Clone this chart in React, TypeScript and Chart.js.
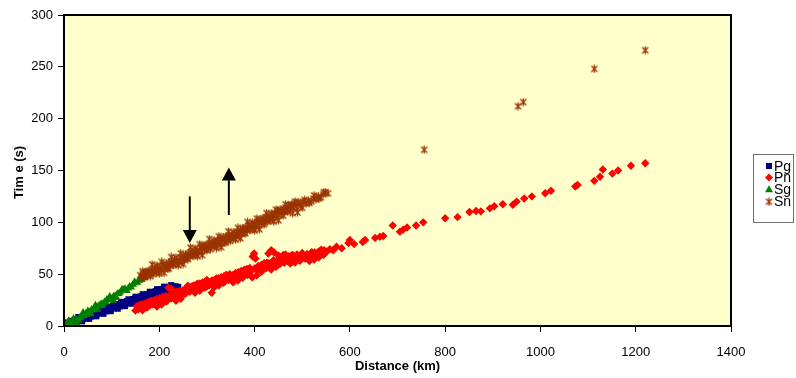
import React, { useEffect, useRef } from 'react';
import { Chart, registerables } from 'chart.js';

Chart.register(...registerables);

// ---- Data ----
const pgX = [2,4,6,8,10,13,15,17,20,22,25,27,30,33,35,38,40,43,46,48,51,54,57,60,63,66,69,72,75,78,81,84,87,90,93,96,99,102,105,108,111,114,117,120,123,126,129,132,135,138,141,144,147,150,153,156,159,162,165,168,171,174,177,180,183,186,189,192,195,198,201,204,207,210,213,216,219,222,225,228,231,234,237,240,
  30,45,60,75,90,105,120,135,150,165,180,195,210,225,38,53,68,83,98,113,128,143,158,173,188,203,218,233];
const pgY = [0.8,2.4,1.2,3.5,1.8,4.2,2.5,5.0,3.1,5.9,4.0,6.8,5.2,7.9,5.6,8.4,6.4,9.6,7.3,10.4,8.1,11.2,9.0,12.4,10.2,13.0,11.1,14.3,12.0,15.2,12.9,16.3,14.0,17.4,15.0,18.1,15.8,19.3,16.9,20.2,17.8,21.3,18.8,22.1,19.7,23.0,20.6,24.1,21.7,25.0,22.6,26.1,23.6,26.9,24.5,27.9,25.4,28.8,26.5,29.9,27.4,30.8,28.5,31.7,29.4,32.8,30.3,33.7,31.4,34.6,32.3,35.7,33.2,36.6,34.3,37.5,35.3,38.0,36.3,38.2,37.0,38.4,37.6,37.8,
  8.7,11.1,13.6,16.0,18.5,20.9,23.4,25.8,28.3,30.7,33.1,35.6,38.0,39.5,4.4,6.8,9.3,11.7,14.2,16.6,19.1,21.5,24.0,26.4,28.8,31.3,33.7,35.2];

const pnX = [150,153,156,159,162,165,168,171,174,177,180,183,186,189,192,195,198,201,204,207,210,213,216,219,222,225,228,231,234,237,240,243,246,249,252,255,258,261,264,267,270,273,276,279,282,285,288,291,294,297,300,303,306,310,312,315,318,321,324,327,330,333,336,339,342,345,348,351,354,357,360,363,366,369,372,375,378,381,384,387,390,393,396,399,402,405,408,411,414,417,420,423,426,429,432,435,438,441,444,447,450,453,456,459,462,465,468,471,474,477,480,483,486,489,492,495,498,502,506,510,514,518,522,526,530,535,540,546,552,558,565,572,583,597,600,609,627,632,653,663,670,690,705,712,720,739,754,800,826,851,865,875,894,903,921,942,950,966,982,1010,1022,1073,1078,1113,1125,1131,1151,1163,1190,1220,
  160,165,170,175,180,185,190,195,200,205,210,215,220,225,230,235,240,245,250,255,260,265,270,275,280,285,290,295,300,305,310,315,320,325,330,335,340,345,350,355,360,365,370,375,380,385,390,395,400,405,410,415,420,425,430,435,440,445,450,455,460,465,470,475,480,485,490,495,500,505,510,515,520,525,530,535,540,545];
const pnY = [15,19,16,20,17,21,19,22,18,23,20,24,21,25,22,26,23,27,24,28,25,29,26,37,27,36,28,32,29,33,30,34,31,33,31,36,34,37,33,38,35,39,36,40,37,41,38,42,39,43,38,42,40,32,44,41,45,42,46,43,47,44,48,45,49,46,50,44,49,47,51,48,52,49,53,50,54,51,55,52,56,53,67,70,65,54,58,55,59,56,60,57,61,70,58,73,62,71,59,63,68,60,64,66,61,69,63,67,64,68,62,67,65,69,66,63,67,68,65,69,67,70,68,71,69,72,70,73,72,74,73,76.5,75,80,83,79,81,83,85,86,86.8,97,91,93,95,97,100,104,105,110,111,110.6,113.5,115.5,117.5,117,120,123,125,128,130.5,134.5,136,140,144,151,147,150,154.6,157,
  20.2,15.1,20.6,18.0,23.5,20.9,23.9,18.8,25.8,20.7,26.2,23.6,29.1,26.5,29.5,24.4,31.4,26.3,34.5,31.2,38.9,34.1,38.3,32.0,40.7,33.9,40.1,36.8,44.5,39.6,43.7,37.3,45.9,39.0,45.1,41.7,49.3,44.4,48.5,42.1,50.7,43.8,49.9,46.5,54.1,49.2,53.3,46.9,55.5,49.0,55.5,52.5,60.5,56.0,60.5,54.5,63.5,57.0,63.5,60.5,68.5,63.3,67.0,60.3,68.5,61.3,67.0,63.3,70.5,65.4,69.3,62.7,71.1,64.0,69.9,66.3,73.7,68.6];

const sgX = [3,6,9,12,15,18,22,25,28,32,35,38,42,45,48,52,55,58,62,65,68,72,75,78,82,85,88,92,95,98,102,105,108,112,115,118,128,132,135,138,141,145,150,154,158,162,166,170,
  20,30,50,70,90,110,125,10,26,40,56,66,80,96,104,122,148,160,168];
const sgY = [0.5,2.0,1.2,3.4,2.6,4.8,4.0,6.3,5.5,7.6,8.2,9.5,10.0,11.8,11.2,13.5,14.0,15.8,15.5,17.6,17.0,19.4,19.8,21.5,21.4,23.2,23.0,25.0,25.6,27.0,27.2,29.0,28.7,31.0,31.0,32.6,36.0,34.0,36.5,38.0,37.5,40.0,41.5,42.0,44.0,44.5,46.5,47.5,
  7.0,5.5,14.5,16.0,25.5,27.5,35.0,5.0,3.0,13.0,11.5,20.0,19.5,28.5,24.5,35.5,42.5,47.0,49.5];

const snX = [160,163,166,169,172,175,178,181,184,187,190,193,196,199,202,205,208,211,214,217,220,223,226,229,232,235,238,241,244,247,250,253,256,259,262,265,268,271,274,277,280,283,286,289,292,295,298,301,304,307,310,313,316,319,322,325,328,331,334,337,340,343,346,349,352,355,358,361,364,367,370,373,376,379,382,385,388,391,394,397,400,403,406,409,412,415,418,421,424,427,430,433,436,439,442,445,448,451,454,457,460,463,466,469,472,475,478,481,484,488,492,497,502,508,513,519,524,529,534,539,544,549,554,756,953,964,1113,1220,
  165,170,175,180,185,190,195,200,205,210,215,220,225,230,235,240,245,250,255,260,265,270,275,280,285,290,295,300,305,310,315,320,325,330,335,340,345,350,355,360,365,370,375,380,385,390,395,400,405,410,415,420,425,430,435,440,445,450,455,460,465,470,475,480,485,490,495,500,505,515,525,535,545];
const snY = [49,46,51,47,52,49,53,48,54,50,55,52,57,53,56,54,59,56,58,55,61,58,62,59,64,60,63,62,66,62,67,64,68,65,70,67,71,68,73,69,72,71,76,72,77,74,78,75,79,74,80,77,81,78,82,79,84,80,85,81,86,83,87,82,88,85,89,87,91,87,92,89,94,90,95,92,97,93,98,94,99,96,101,97,102,99,104,100,105,101,106,103,108,104,109,106,111,107,112,109,113,110,114,111,116,112,117,114,118,115,119,116,120,118,121,120,123,122,125,124,127,129,128,170,212,216,248,266,
  52.8,47.7,52.3,50.3,59.4,52.3,58.1,50.5,61.9,51.3,60.1,55.5,66.6,59.8,65.9,58.5,70.2,59.8,68.9,64.6,75.7,68.8,74.8,67.3,78.9,68.4,77.4,73.0,83.9,76.8,82.8,75.2,86.6,76.0,84.9,80.4,91.3,84.4,90.5,83.2,94.8,84.5,93.6,89.2,100.4,93.5,99.6,92.1,103.7,93.3,102.4,97.9,109.0,102.1,108.1,100.7,112.3,101.9,110.9,106.5,117.4,110.4,116.3,108.8,120.2,109.6,118.6,114.0,121.6,118.7,125.9,123.0,129.0];

const seriesNames = ['Pg', 'Pn', 'Sg', 'Sn'];
const seriesColors = ['#000080', '#FF0000', '#008000', '#993300'];

const xTickValues = [0, 200, 400, 600, 800, 1000, 1200, 1400];
const yTickValues = [0, 50, 100, 150, 200, 250, 300];

const arrowX = [264, 346];
const arrowFrom = [125, 107];
const arrowTo = [80, 153];

const FONT = "'Liberation Sans', Arial, sans-serif";

function makeStar(color: string): HTMLCanvasElement {
  const c = document.createElement('canvas');
  c.width = 9;
  c.height = 9;
  const g = c.getContext('2d')!;
  g.strokeStyle = color;
  g.lineWidth = 1.3;
  g.beginPath();
  g.moveTo(1.5, 1.5); g.lineTo(7.5, 7.5);
  g.moveTo(7.5, 1.5); g.lineTo(1.5, 7.5);
  g.moveTo(4.5, 0.5); g.lineTo(4.5, 8.5);
  g.stroke();
  return c;
}

function toPts(xs: number[], ys: number[]) {
  return xs.map((x, i) => ({ x, y: ys[i] }));
}

export default function App() {
  const ref = useRef<HTMLCanvasElement | null>(null);

  useEffect(() => {
    if (!ref.current) return;
    const star = makeStar(seriesColors[3]);

    const decor = {
      id: 'decor',
      beforeDraw(chart: any) {
        const { ctx, chartArea: a } = chart;
        ctx.save();
        ctx.fillStyle = '#FFFFFF';
        ctx.fillRect(0, 0, chart.width, chart.height);
        ctx.fillStyle = '#FFFFCC';
        ctx.fillRect(a.left, a.top, a.right - a.left, a.bottom - a.top);
        ctx.restore();
      },
      afterDraw(chart: any) {
        const { ctx, chartArea: a, scales } = chart;
        ctx.save();
        ctx.strokeStyle = '#000';
        ctx.lineWidth = 2;
        ctx.strokeRect(a.left, a.top, a.right - a.left, a.bottom - a.top);

        ctx.fillStyle = '#000';
        ctx.strokeStyle = '#000';
        for (let i = 0; i < arrowX.length; i++) {
          const px = scales.x.getPixelForValue(arrowX[i]);
          const p0 = scales.y.getPixelForValue(arrowFrom[i]);
          const p1 = scales.y.getPixelForValue(arrowTo[i]);
          const dir = p1 > p0 ? 1 : -1;
          const head = 13;
          ctx.lineWidth = 2;
          ctx.beginPath();
          ctx.moveTo(px, p0);
          ctx.lineTo(px, p1 - dir * head);
          ctx.stroke();
          ctx.beginPath();
          ctx.moveTo(px, p1);
          ctx.lineTo(px - 7, p1 - dir * head);
          ctx.lineTo(px + 7, p1 - dir * head);
          ctx.closePath();
          ctx.fill();
        }

        ctx.fillStyle = '#000';
        ctx.font = `bold 13px ${FONT}`;
        ctx.textAlign = 'center';
        ctx.textBaseline = 'middle';
        ctx.fillText('Distance (km)', (a.left + a.right) / 2, 366);
        ctx.save();
        ctx.translate(19, (a.top + a.bottom) / 2 + 2);
        ctx.rotate(-Math.PI / 2);
        ctx.fillText('Tim e (s)', 0, 0);
        ctx.restore();

        const bx = 753, by = 154, bw = 40, bh = 68;
        ctx.fillStyle = '#FFFFFF';
        ctx.fillRect(bx, by, bw, bh);
        ctx.strokeStyle = '#707070';
        ctx.lineWidth = 1;
        ctx.strokeRect(bx + 0.5, by + 0.5, bw, bh);
        const rows = [166, 177.6, 189.2, 200.8];
        ctx.font = `14px ${FONT}`;
        ctx.textAlign = 'left';
        ctx.textBaseline = 'middle';
        for (let i = 0; i < seriesNames.length; i++) {
          const cy = rows[i];
          const mx = 769;
          ctx.fillStyle = seriesColors[i];
          if (i === 0) {
            ctx.fillRect(mx - 3, cy - 3, 6, 6);
          } else if (i === 1) {
            ctx.beginPath();
            ctx.moveTo(mx, cy - 4); ctx.lineTo(mx + 4, cy); ctx.lineTo(mx, cy + 4); ctx.lineTo(mx - 4, cy);
            ctx.closePath(); ctx.fill();
          } else if (i === 2) {
            ctx.beginPath();
            ctx.moveTo(mx, cy - 4); ctx.lineTo(mx + 4, cy + 3); ctx.lineTo(mx - 4, cy + 3);
            ctx.closePath(); ctx.fill();
          } else {
            ctx.drawImage(star, mx - 4.5, cy - 4.5 + 1);
          }
          ctx.fillStyle = '#000';
          ctx.fillText(seriesNames[i], 774, cy + 1);
        }
        ctx.restore();
      },
    };

    const tickFont = { family: FONT, size: 13 };

    const chart = new Chart(ref.current, {
      type: 'scatter',
      data: {
        datasets: [
          { label: seriesNames[0], data: toPts(pgX, pgY), backgroundColor: seriesColors[0], borderColor: seriesColors[0], pointStyle: 'rect', pointRadius: 4.2, borderWidth: 0, order: 4 },
          { label: seriesNames[1], data: toPts(pnX, pnY), backgroundColor: seriesColors[1], borderColor: seriesColors[1], pointStyle: 'rectRot', pointRadius: 4.2, borderWidth: 0, order: 3 },
          { label: seriesNames[2], data: toPts(sgX, sgY), backgroundColor: seriesColors[2], borderColor: seriesColors[2], pointStyle: 'triangle', pointRadius: 4.5, borderWidth: 0, order: 2 },
          { label: seriesNames[3], data: toPts(snX, snY), backgroundColor: seriesColors[3], borderColor: seriesColors[3], pointStyle: star as any, pointRadius: 4.5, borderWidth: 0, order: 1 },
        ] as any,
      },
      options: {
        responsive: false,
        animation: false,
        devicePixelRatio: 1,
        layout: { padding: { top: 15, right: 65, left: 0, bottom: 0 } },
        plugins: { legend: { display: false }, tooltip: { enabled: false } },
        scales: {
          x: {
            type: 'linear',
            min: 0,
            max: 1400,
            afterBuildTicks: (s: any) => { s.ticks = xTickValues.map((v) => ({ value: v })); },
            ticks: { color: '#000', font: tickFont, padding: 13, maxRotation: 0, autoSkip: false, callback: (v: any) => String(v) },
            grid: { display: true, drawOnChartArea: false, drawTicks: true, tickLength: 6, color: '#000', lineWidth: 1 },
            border: { display: true, color: '#000', width: 2 },
            afterFit: (s: any) => { s.height = 52; },
          },
          y: {
            type: 'linear',
            min: 0,
            max: 300,
            afterBuildTicks: (s: any) => { s.ticks = yTickValues.map((v) => ({ value: v })); },
            ticks: { color: '#000', font: tickFont, padding: 5, autoSkip: false, callback: (v: any) => String(v) },
            grid: { display: true, drawOnChartArea: false, drawTicks: true, tickLength: 6, color: '#000', lineWidth: 1 },
            border: { display: true, color: '#000', width: 2 },
            afterFit: (s: any) => { s.width = 64; },
          },
        },
      } as any,
      plugins: [decor],
    });
    return () => chart.destroy();
  }, []);

  return (
    <div style={{ position: 'absolute', left: 0, top: 0, width: 796, height: 378 }}>
      <canvas ref={ref} width={796} height={378} style={{ width: 796, height: 378 }} />
    </div>
  );
}
